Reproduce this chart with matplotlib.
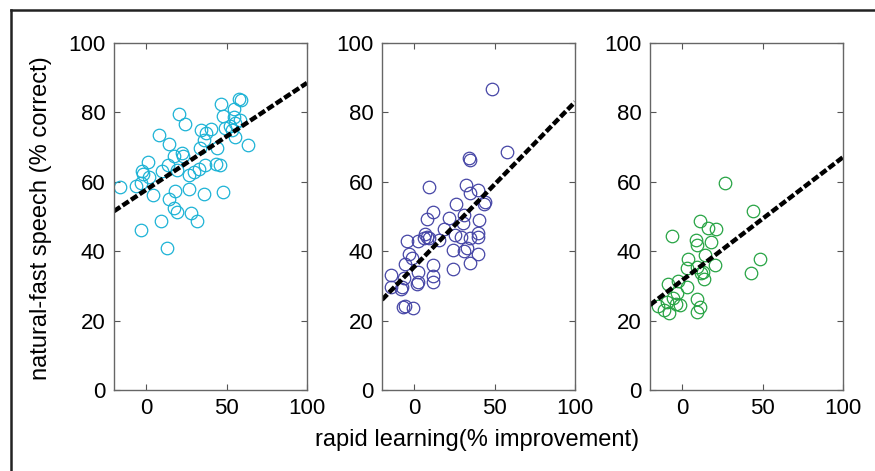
import numpy as np
import matplotlib
matplotlib.use("Agg")
import matplotlib.pyplot as plt
from matplotlib.lines import Line2D

plt.rcParams["font.family"] = ["Liberation Sans", "DejaVu Sans"]

# panel 1 (cyan)
x1 = [-16.3, -6.3, -3.4, -2.8, 0.9, -1.8, 1.9, 4.4, -3.4, 7.9, 14.1, 9.6, 13.5,
      18.9, 17.2, 22.0, 23.0, 20.3, 23.9, 17.9, 14.3, 17.4, 18.9, 9.2, 12.9,
      26.8, 27.6, 31.7, 26.8, 29.9, 32.6, 33.4, 33.8, 35.9, 37.5, 40.6, 36.5,
      35.9, 43.6, 45.7, 43.8, 46.3, 47.7, 47.7, 49.3, 52.0, 54.4, 54.4, 55.5,
      53.4, 58.5, 57.8, 59.0, 63.3, 55.5]
y1 = [58.5, 58.8, 59.6, 63.0, 65.7, 62.3, 61.5, 56.1, 46.0, 73.5, 71.0, 63.0, 64.9,
      63.5, 67.3, 68.3, 67.3, 79.6, 76.7, 57.3, 55.1, 52.4, 51.4, 48.8, 40.8,
      58.0, 51.0, 48.6, 61.9, 62.8, 63.7, 69.7, 75.0, 72.1, 74.0, 75.2, 64.7,
      56.4, 65.2, 64.9, 69.7, 82.5, 57.1, 79.0, 75.5, 76.0, 81.1, 78.7, 72.9,
      75.0, 77.9, 83.9, 83.5, 70.7, 76.9]

# panel 2 (blue)
x2 = [48.1, 57.9, 34.1, 34.5, 9.4, 32.4, 34.9, 39.7, 44.3, 43.3, 26.1, 11.9, 7.8,
      21.8, 31.1, 30.3, 40.1, 18.6, 6.7, 8.2, 9.4, 6.1, 15.7, 25.5, 29.3, 34.9,
      39.7, 39.5, -4.3, 2.5, 24.1, 31.1, 32.7, 39.5, 34.9, 24.1, -3.1, -1.6,
      -5.4, 2.5, 11.9, 11.9, 11.5, 2.5, 1.5, -14.2, -14.2, -7.3, -6.4, -6.8,
      -5.4, -0.6, -7.9]
y2 = [86.7, 68.6, 67.0, 66.2, 58.5, 59.1, 56.7, 57.7, 54.3, 53.6, 53.7, 51.4, 49.2,
      49.7, 50.3, 48.1, 49.0, 46.4, 45.0, 44.2, 43.9, 43.8, 43.3, 44.6, 44.2, 43.9,
      45.2, 44.2, 43.0, 42.8, 40.4, 40.2, 40.9, 39.2, 36.5, 34.8, 39.2, 38.0,
      36.3, 34.1, 36.1, 32.9, 31.1, 31.0, 30.6, 33.0, 29.8, 29.8, 32.2, 23.8,
      24.3, 23.6, 29.1]

# panel 3 (green)
x3 = [26.6, 44.1, 48.3, 42.5, -6.6, 11.0, 16.2, 21.0, 8.6, 9.4, 17.7, 14.1, 3.8,
      3.2, 9.4, 12.7, 13.5, 20.3, 11.4, -2.4, -8.6, 2.8, -3.4, -5.9, -1.4, -9.7,
      -14.8, -11.3, -8.0, 9.4, 11.0, 9.4, -3.9]
y3 = [59.6, 51.6, 37.7, 33.7, 44.4, 48.8, 46.6, 46.4, 43.3, 41.8, 42.6, 38.8, 37.7,
      35.1, 35.4, 34.1, 31.9, 36.1, 33.7, 31.3, 30.6, 29.6, 27.9, 26.4, 24.5, 25.5,
      24.2, 23.1, 22.1, 26.2, 24.0, 22.4, 24.8]

# fitted lines (intercept, slope)
fits = [(57.7, 0.308), (35.5, 0.475), (31.6, 0.355)]
colors = ["#1db3d6", "#4646a6", "#27a444"]
xticks = [0, 50, 100]
yticks = [0, 20, 40, 60, 80, 100]

W, H = 875, 471
fig = plt.figure(figsize=(W / 100, H / 100), dpi=100)

# outer frame (top and left visible)
fig.add_artist(Line2D([11 / W, 1], [1 - 10 / H, 1 - 10 / H], color="#222222", lw=1.8,
                      transform=fig.transFigure))
fig.add_artist(Line2D([11 / W, 11 / W], [0, 1 - 10 / H], color="#222222", lw=1.8,
                      transform=fig.transFigure))

lefts = [114, 382, 650]
aw, top, bottom = 193, 43, 390
data = [(x1, y1), (x2, y2), (x3, y3)]

for i, (xs, ys) in enumerate(data):
    ax = fig.add_axes([lefts[i] / W, 1 - bottom / H, aw / W, (bottom - top) / H])
    ax.plot(xs, ys, "o", mfc="none", mec=colors[i], ms=9, mew=0.9)
    b, m = fits[i]
    lx = np.array([-20, 100])
    ax.plot(lx, b + m * lx, color="black", lw=3.2, ls=(0, (1.7, 0.6)))
    ax.set_xlim(-20, 100)
    ax.set_ylim(0, 100)
    ax.set_xticks(xticks)
    ax.set_yticks(yticks)
    ax.tick_params(direction="in", length=4, width=0.8, colors="#555555",
                   labelcolor="black", labelsize=16, top=True, right=True, pad=6)
    for s in ax.spines.values():
        s.set_color("#666666")
        s.set_linewidth(1.0)

fig.text(41 / W, 1 - 218 / H, "natural-fast speech (% correct)", rotation=90,
         ha="center", va="center", fontsize=17)
fig.text(477 / W, 1 - 440 / H, "rapid learning(% improvement)", ha="center",
         va="center", fontsize=17)

fig.savefig("out.png", dpi=100)
